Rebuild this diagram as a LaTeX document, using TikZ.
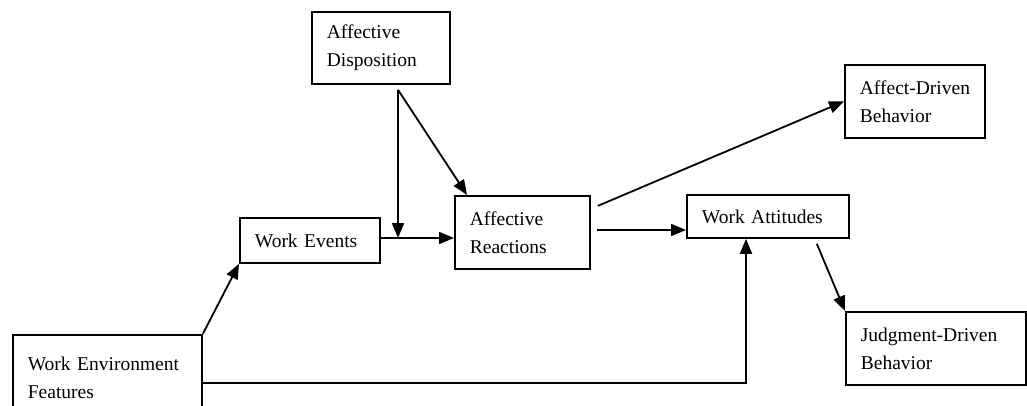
\documentclass[tikz,border=0pt]{standalone}
\usepackage{fontspec}
\setmainfont{Liberation Serif}
\usetikzlibrary{arrows.meta,calc}
\begin{document}
\begin{tikzpicture}[x=1pt,y=-1pt,
  box/.style={draw,line width=1.8pt,rectangle,anchor=north west,inner xsep=15pt,inner ysep=0pt,align=left,font=\fontsize{19.5}{28}\selectfont},
  arr/.style={line width=1.8pt,-{Triangle[length=15pt,width=12pt]}}]
\useasboundingbox (0,0) rectangle (1027,406);
\clip (0,0) rectangle (1027,406);
\fill[white] (0,0) rectangle (1027,406);
\node[box,minimum width=138pt,minimum height=72pt,text width=108pt] (AD) at (311,11) {Affective\\Disposition};
\node[box,minimum width=140pt,minimum height=45pt,text width=110pt] (WE) at (239,217) {Work Events};
\node[box,minimum width=135pt,minimum height=73pt,text width=105pt] (AR) at (454,195) {Affective\\Reactions};
\node[box,minimum width=140pt,minimum height=73pt,text width=110pt] (ADB) at (844,64) {\mbox{Affect-Driven}\\Behavior};
\node[box,minimum width=162pt,minimum height=43pt,text width=132pt] (WA) at (686,194) {Work Attitudes};
\node[box,minimum width=180pt,minimum height=73pt,text width=150pt] (JDB) at (845,311) {\mbox{Judgment-Driven}\\Behavior};
\node[box,minimum width=189pt,minimum height=86pt,text width=159pt] (WEF) at (12,334) {Work Environment\\Features};
\coordinate (j) at (398,238);
\coordinate (h) at (0,383);
\coordinate (k) at (597,230);
\coordinate (ad0) at ($(AD.south west)+(87,5)$);
\draw[arr] (WEF.north east) -- (WE.south west);
\draw[arr] (WEF.east |- h) -| ($(WA.south west)+(60,0)$);
\draw[arr] (WE.east |- j) -- (AR.west |- j);
\draw[arr] (ad0) -- (j);
\draw[arr] (ad0) -- ($(AR.north west)+(13,0)$);
\draw[arr] ($(AR.east)+(7,-26.5)$) -- (ADB.west);
\draw[arr] (k) -- (WA.west |- k);
\draw[arr] ($(WA.south east)+(-33,5)$) -- (JDB.north west);
\end{tikzpicture}
\end{document}
